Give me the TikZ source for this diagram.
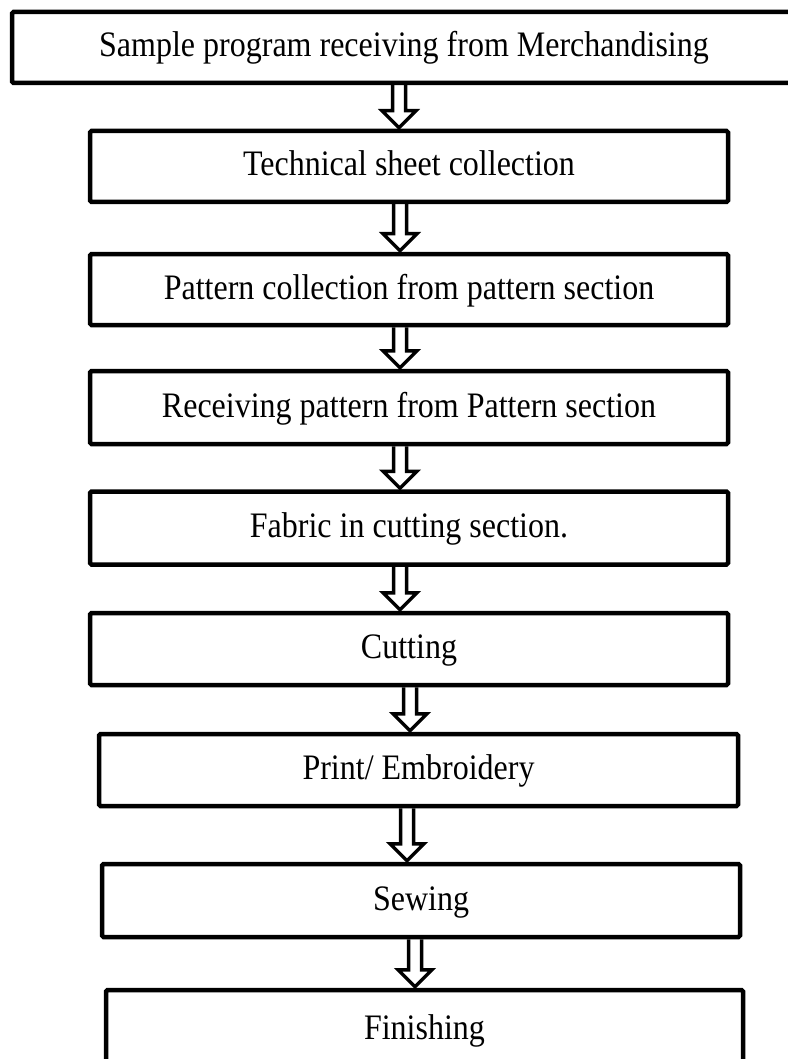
\documentclass[tikz,border=0pt]{standalone}
\usepackage{fontspec}
\setmainfont{Liberation Serif}
\usetikzlibrary{calc,backgrounds}
\tikzset{
  stepbox/.style={draw=black, line width=4.5pt, rounded corners=1.5pt, rectangle,
    inner sep=0pt, text height=25pt, text depth=6pt,
    font=\fontsize{32}{38}\selectfont},
  blockarrow/.style={draw=black, line width=3.5pt, fill=white, line join=miter}
}
\newcommand{\tx}[1]{\scalebox{1}[1.12]{#1}}
\newcommand{\blkarrow}[3]{%
  \path let \p1=(#1.south), \p2=(#2.north) in
    [blockarrow]
    ({#3pt-6.5pt},\y1) -- ({#3pt-6.5pt},\y2+18pt) -- ({#3pt-17pt},\y2+18pt)
    -- ({#3pt},\y2+1pt) -- ({#3pt+17pt},\y2+18pt) -- ({#3pt+6.5pt},\y2+18pt)
    -- ({#3pt+6.5pt},\y1);}
\begin{document}
\begin{tikzpicture}[x=1pt,y=-1pt]
\useasboundingbox (0,0) rectangle (787,1059);
\node[stepbox, minimum width=784pt, minimum height=71pt] (b1) at (404,47.5) {\tx{Sample program receiving from Merchandising}};
\node[stepbox, minimum width=638pt, minimum height=71pt] (b2) at (409,166.5) {\tx{Technical sheet collection}};
\node[stepbox, minimum width=638pt, minimum height=71pt] (b3) at (409,289.5) {\tx{Pattern collection from pattern section}};
\node[stepbox, minimum width=638pt, minimum height=73pt] (b4) at (409,407.5) {\tx{Receiving pattern from Pattern section}};
\node[stepbox, minimum width=638pt, minimum height=73pt] (b5) at (409,528) {\tx{Fabric in cutting section.}};
\node[stepbox, minimum width=638pt, minimum height=72pt] (b6) at (409,649) {\tx{Cutting}};
\node[stepbox, minimum width=639pt, minimum height=72pt] (b7) at (418.5,770) {\tx{Print/ Embroidery}};
\node[stepbox, minimum width=638pt, minimum height=73pt] (b8) at (421,900.5) {\tx{Sewing}};
\node[stepbox, minimum width=637pt, minimum height=80pt] (b9) at (424.5,1030) {\tx{Finishing}};
\begin{scope}[on background layer]
\blkarrow{b1}{b2}{399}
\blkarrow{b2}{b3}{400}
\blkarrow{b3}{b4}{400}
\blkarrow{b4}{b5}{400}
\blkarrow{b5}{b6}{400}
\blkarrow{b6}{b7}{410}
\blkarrow{b7}{b8}{407}
\blkarrow{b8}{b9}{415}
\end{scope}
\end{tikzpicture}
\end{document}
